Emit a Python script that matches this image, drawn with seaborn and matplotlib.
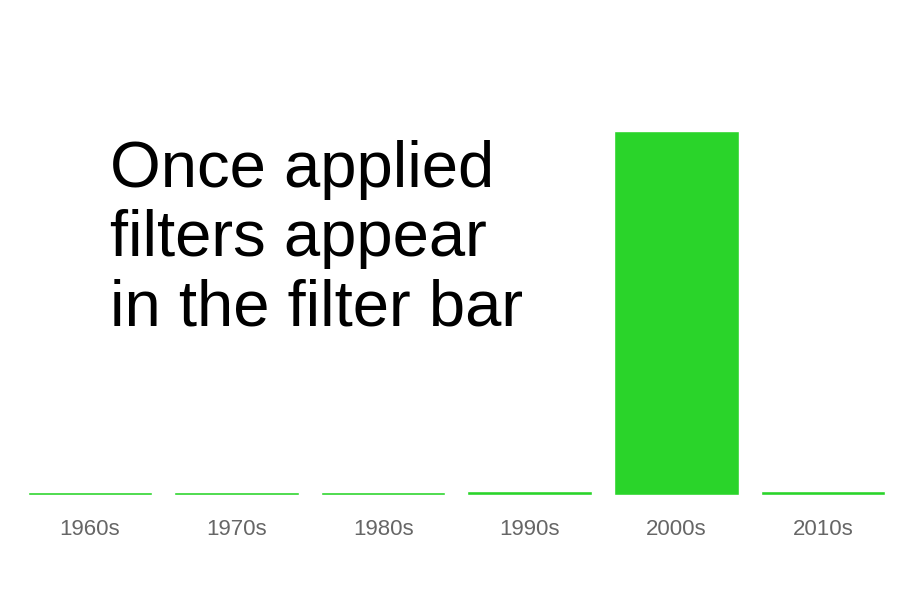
import matplotlib
matplotlib.use("Agg")
import matplotlib.pyplot as plt
import seaborn as sns
import pandas as pd

decades = ["1960s", "1970s", "1980s", "1990s", "2000s", "2010s"]
counts = [0.8, 0.8, 0.8, 1.0, 100, 1.0]

df = pd.DataFrame({"decade": decades, "count": counts})

sns.set_style("white")
plt.rcParams['font.family'] = ['Liberation Sans', 'DejaVu Sans']

fig = plt.figure(figsize=(9.22, 5.92), dpi=100)
ax = fig.add_axes([0.018, 0.164, 0.954, 0.615])
sns.barplot(data=df, x="decade", y="count", color="#2ad42a", saturation=1,
            width=0.85, ax=ax)
ax.set_xlim(-0.5, 5.5)
ax.set_ylim(0, 100)
ax.set_xlabel("")
ax.set_ylabel("")
ax.set_yticks([])
ax.tick_params(axis="x", length=0, labelsize=16, labelcolor="#666666", pad=17)
sns.despine(ax=ax, left=True, bottom=True)

fig.text(110 / 922, 1 - 140 / 592, "Once applied\nfilters appear\nin the filter bar",
         fontsize=47, color="black", va="top", ha="left", linespacing=1.2)

fig.savefig("out.png", dpi=100)
